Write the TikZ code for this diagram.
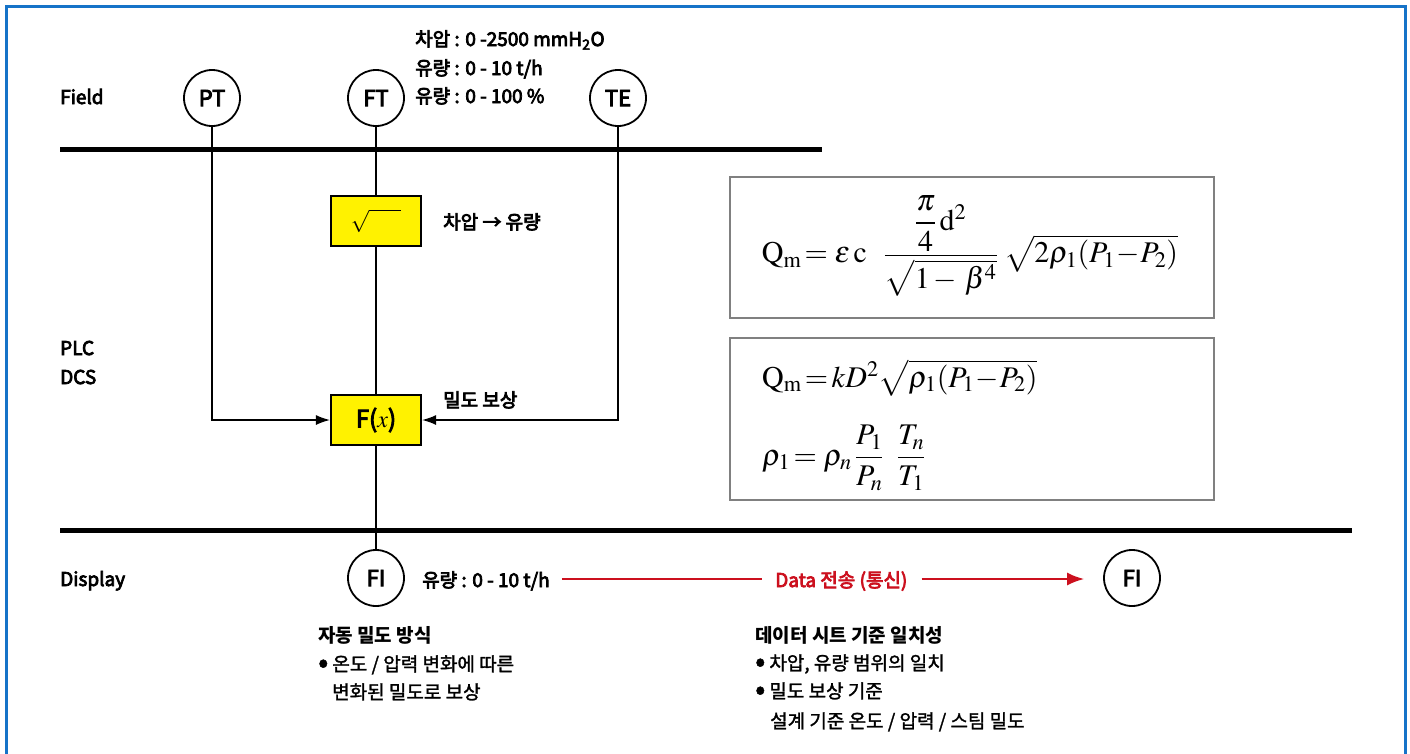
\documentclass[tikz,border=0pt]{standalone}
\usepackage{amsmath}
\usepackage{mathptmx}
\usepackage{fontspec}
\setmainfont{Noto Sans CJK KR}
\newfontfamily\medfont{Noto Sans CJK KR}[FakeBold=4]
\newfontfamily\regfont{Noto Sans CJK KR}[FakeBold=1.5]
\usetikzlibrary{arrows.meta}
\definecolor{bframe}{RGB}{22,115,200}
\definecolor{fyellow}{RGB}{255,242,0}
\definecolor{dred}{RGB}{204,16,30}
\definecolor{fgray}{RGB}{128,128,128}
\newcommand{\bigbul}{\raisebox{-1.5pt}{\fontsize{30}{30}\selectfont •}\hspace{4pt}}
\tikzset{
  inst/.style={circle, draw, line width=1.8pt, minimum size=56pt, inner sep=0pt,
    font=\medfont\fontsize{22}{26}\selectfont},
  blk/.style={draw, line width=2.2pt, fill=fyellow, minimum width=90pt, minimum height=50pt, inner sep=0pt},
  lbl/.style={anchor=base west, inner sep=0pt, font=\medfont\fontsize{19}{23}\selectfont},
  hdl/.style={anchor=base west, inner sep=0pt, font=\bfseries\fontsize{19}{23}\selectfont},
  txt/.style={anchor=base west, inner sep=0pt, font=\regfont\fontsize{19}{23}\selectfont},
  conn/.style={line width=1.3pt},
  bar/.style={line width=5pt},
  fbox/.style={draw=fgray, line width=1.8pt, inner sep=0pt},
  math/.style={inner sep=0pt, font=\fontsize{30}{34}\selectfont},
  tip/.style={-{Latex[length=14pt,width=10pt]}},
  redtip/.style={-{Latex[length=17pt,width=13pt]}},
}
\begin{document}
\begin{tikzpicture}[x=1pt,y=-1pt]
\clip (0,0) rectangle (1410,753);
\fill[white] (0,0) rectangle (1410,753);
% frame
\draw[bframe, line width=3pt] (6,770) -- (6,6) -- (1405,6) -- (1405,770);
% level bars
\draw[bar] (60,149) -- (822,149);
\draw[bar] (60,530) -- (1352,530);
% level labels
\node[lbl] (field) at (60,104) {Field};
\node[lbl] (plc) at (60,355) {PLC};
\node[lbl] (dcs) at (60,384) {DCS};
\node[lbl] (disp) at (60,586) {Display};
% instruments
\node[inst] (pt) at (212,98) {PT};
\node[inst] (ft) at (376,98) {FT};
\node[inst] (te) at (618,98) {TE};
\node[inst] (fi1) at (376,578) {FI};
\node[inst] (fi2) at (1132,578) {FI};
% ranges
\node[lbl] (r1) at (415,46) {차압 : 0 -2500 mmH\textsubscript{2}O};
\node[lbl] (r2) at (415,75) {유량 : 0 - 10 t/h};
\node[lbl] (r3) at (415,103) {유량 : 0 - 100 \%};
% blocks
\node[blk] (sq) at (376,221) {\fontsize{22}{26}\selectfont$\sqrt{\hphantom{mm}}$};
\node[blk] (fx) at (376,420) {\medfont\fontsize{24}{28}\selectfont F($x$)};
\node[lbl] (sqlbl) at (443,229) {차압 → 유량};
\node[lbl] (fxlbl) at (443,407) {밀도 보상};
% connectors
\draw[conn] (ft) -- (sq);
\draw[conn] (sq) -- (fx);
\draw[conn] (fx) -- (fi1);
\draw[conn, tip] (pt) |- (fx);
\draw[conn, tip] (te) |- (fx);
% display line
\node[lbl] (flow) at (422,587) {유량 : 0 - 10 t/h};
\node[lbl, text=dred] (dat) at (775,587) {Data 전송 (통신)};
\coordinate (redy) at (0,579);
\draw[dred, line width=2pt, shorten <=12pt, shorten >=13pt] (flow.east |- redy) -- (dat.west |- redy);
\draw[dred, line width=2pt, redtip, shorten <=14pt, shorten >=19pt] (dat.east |- redy) -- (fi2.west |- redy);
% formula boxes
\node[fbox, minimum width=484pt, minimum height=141pt] (fb1) at (972,247.5) {};
\node[math] (eq1) at (970,246) {$\mathrm{Q}_{\mathrm{m}}\!= \varepsilon\,\mathrm{c}\;\;\, \dfrac{\dfrac{\pi}{4}\,\mathrm{d}^2}{\sqrt{1-\,\beta^4}}\;\sqrt{2\rho_1(P_1\!-\!P_2)}$};
\node[fbox, minimum width=484pt, minimum height=162pt] (fb2) at (972,419) {};
\node[math, anchor=west] (eq2) at (762,378) {$\mathrm{Q}_{\mathrm{m}}\!=\!kD^2\sqrt{\rho_1(P_1\!-\!P_2)}$};
\node[math, anchor=west] (eq3) at (762,458) {$\rho_1\!= \rho_n\,\dfrac{P_1}{P_n}\;\;\dfrac{T_n}{T_1}$};
% notes
\node[hdl] (n1) at (318,642) {자동 밀도 방식};
\node[txt] (n2) at (318,671) {\bigbul 온도 / 압력 변화에 따른};
\node[txt] (n3) at (332,699) {변화된 밀도로 보상};
\node[hdl] (m1) at (755,642) {데이터 시트 기준 일치성};
\node[txt] (m2) at (755,670) {\bigbul 차압, 유량 범위의 일치};
\node[txt] (m3) at (755,698) {\bigbul 밀도 보상 기준};
\node[txt] (m4) at (770,728) {설계 기준 온도 / 압력 / 스팀 밀도};
\end{tikzpicture}
\end{document}
